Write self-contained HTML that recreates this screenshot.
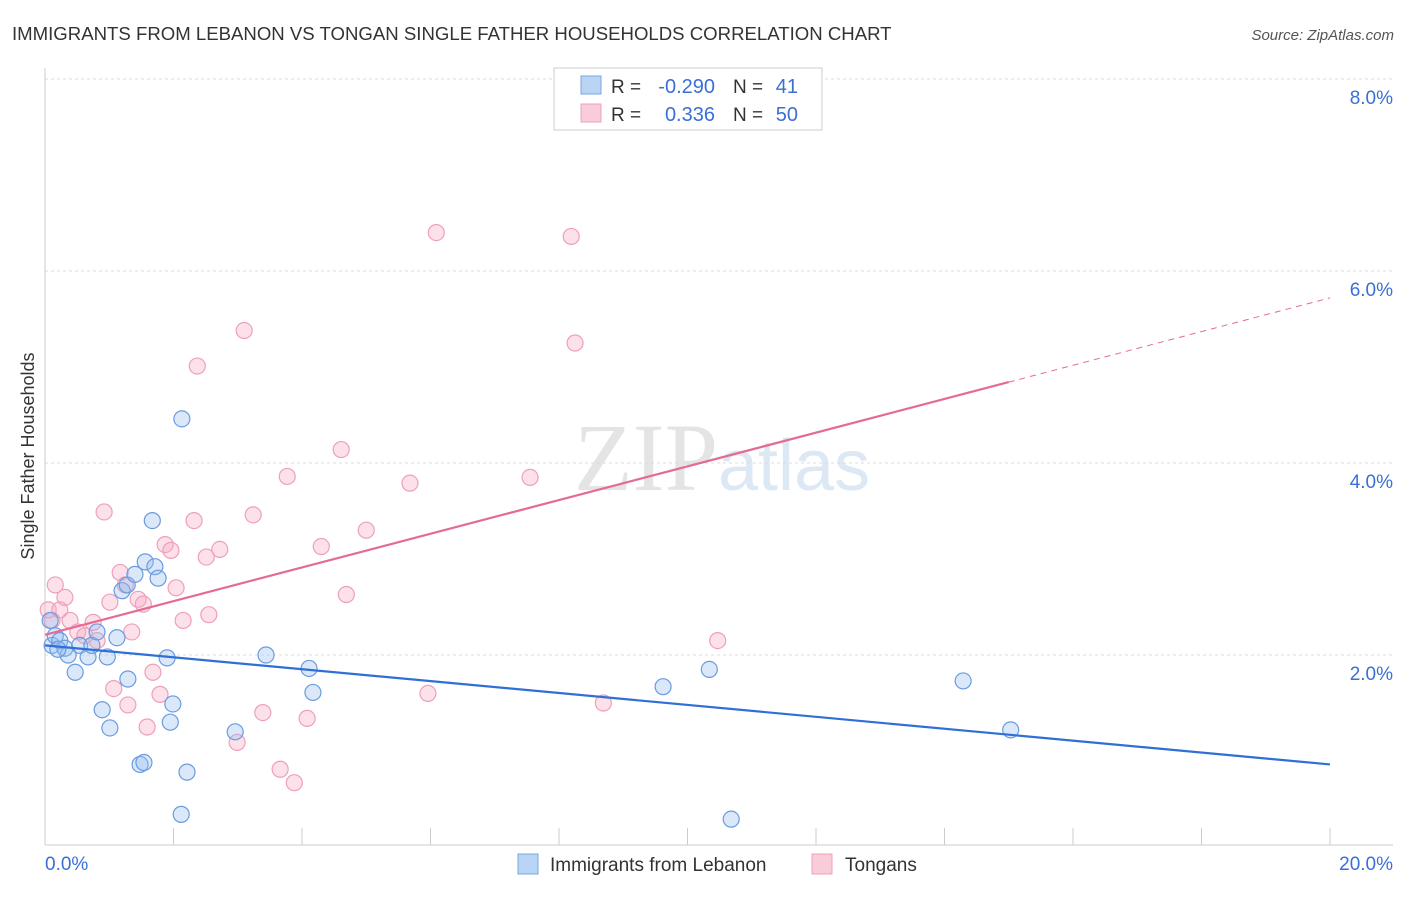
<!DOCTYPE html>
<html><head><meta charset="utf-8"><style>
body{margin:0;background:#fff;font-family:"Liberation Sans",sans-serif}
</style></head><body>
<svg id="c" width="1406" height="892" xmlns="http://www.w3.org/2000/svg">
<text x="12" y="40" font-size="18.6" fill="#333">IMMIGRANTS FROM LEBANON VS TONGAN SINGLE FATHER HOUSEHOLDS CORRELATION CHART</text>
<text x="1394" y="40" font-size="15" fill="#555" font-style="italic" text-anchor="end">Source: ZipAtlas.com</text>
<text x="718" y="490" font-size="96" fill="#e4e4e4" text-anchor="end" font-family="Liberation Serif">ZIP</text>
<text x="718" y="490" font-size="72" fill="#dde8f5">atlas</text>
<g id="grid"></g><g id="axes"></g><g id="marks"></g>
<text transform="translate(34,456) rotate(-90)" font-size="18" fill="#333" text-anchor="middle">Single Father Households</text>
<g>
<rect x="554" y="68" width="268" height="62" fill="#fff" stroke="#ccc"/>
<rect x="581" y="76" width="20" height="18" fill="#b9d4f5" stroke="#7aa7e0"/>
<rect x="581" y="104" width="20" height="18" fill="#f9ccd9" stroke="#eea0b8"/>
<text x="611" y="93" font-size="19" fill="#333">R =</text>
<text x="715" y="93" font-size="20" fill="#3a6fd8" text-anchor="end">-0.290</text>
<text x="733" y="93" font-size="19" fill="#333">N =</text>
<text x="798" y="93" font-size="20" fill="#3a6fd8" text-anchor="end">41</text>
<text x="611" y="121" font-size="19" fill="#333">R =</text>
<text x="715" y="121" font-size="20" fill="#3a6fd8" text-anchor="end">0.336</text>
<text x="733" y="121" font-size="19" fill="#333">N =</text>
<text x="798" y="121" font-size="20" fill="#3a6fd8" text-anchor="end">50</text>
</g>
<g>
<rect x="518" y="854" width="20" height="20" fill="#b9d4f5" stroke="#7aa7e0"/>
<text x="550" y="871" font-size="19" fill="#333">Immigrants from Lebanon</text>
<rect x="812" y="854" width="20" height="20" fill="#f9ccd9" stroke="#eea0b8"/>
<text x="845" y="871" font-size="19" fill="#333">Tongans</text>
</g>
</svg>
<script>
const xTicks=[0,2,4,6,8,10,12,14,16,18,20];
const yTicks=[2,4,6,8];
const blueX=[0.11,0.16,0.23,0.31,0.36,0.47,0.54,0.67,0.73,0.81,0.89,0.97,1.01,1.12,1.2,1.28,1.29,1.4,1.48,1.54,1.56,1.67,1.71,1.76,1.9,1.95,1.99,2.12,2.13,2.21,2.96,3.44,4.11,4.17,9.62,10.34,10.68,14.29,15.03,0.08,0.2];
const blueY=[2.1,2.2,2.15,2.07,2.0,1.82,2.1,1.98,2.1,2.24,1.43,1.98,1.24,2.18,2.67,2.73,1.75,2.84,0.86,0.88,2.97,3.4,2.92,2.8,1.97,1.3,1.49,0.34,4.46,0.78,1.2,2.0,1.86,1.61,1.67,1.85,0.29,1.73,1.22,2.36,2.06];
const pinkX=[0.05,0.11,0.16,0.23,0.31,0.39,0.51,0.62,0.75,0.81,0.92,1.01,1.07,1.17,1.25,1.29,1.35,1.45,1.53,1.59,1.68,1.79,1.87,1.96,2.04,2.15,2.32,2.37,2.51,2.55,2.72,2.99,3.1,3.24,3.39,3.66,3.77,3.88,4.08,4.3,4.61,4.69,5.0,5.68,5.96,6.09,7.55,8.19,8.25,8.69,10.47];
const pinkY=[2.47,2.36,2.73,2.47,2.6,2.36,2.24,2.2,2.34,2.15,3.49,2.55,1.65,2.86,2.73,1.48,2.24,2.58,2.53,1.25,1.82,1.59,3.15,3.09,2.7,2.36,3.4,5.01,3.02,2.42,3.1,1.09,5.38,3.46,1.4,0.81,3.86,0.67,1.34,3.13,4.14,2.63,3.3,3.79,1.6,6.4,3.85,6.36,5.25,1.5,2.15];
const blueLine=[2.10,0.86];
const pinkLine=[2.21,5.72];
const pinkSolidEnd=15.0;
const X=v=>45+v*64.25, Y=v=>847-v*96;
const NS="http://www.w3.org/2000/svg";
function mk(t,a,p){const e=document.createElementNS(NS,t);for(const k in a)e.setAttribute(k,a[k]);document.getElementById(p).appendChild(e);return e;}
yTicks.forEach(t=>{const l=mk('line',{x1:45,x2:1393,y1:Y(t),y2:Y(t),stroke:'#ddd','stroke-dasharray':'3,3'},'grid');


const tx=mk('text',{x:1393,y:Y(t)+25,'font-size':19,fill:'#3a6fd8','text-anchor':'end'},'axes');tx.textContent=t.toFixed(1)+'%';

});
const ax=mk('line',{x1:45,x2:1393,y1:845,y2:845,stroke:'#ccc'},'axes');


const ay=mk('line',{x1:45,x2:45,y1:68,y2:845,stroke:'#ccc'},'axes');


xTicks.forEach(t=>{const l=mk('line',{x1:X(t),x2:X(t),y1:828,y2:845,stroke:'#ccc'},'axes');

});
[[0,'0.0%','start',45],[20,'20.0%','end',1393]].forEach(d=>{const tx=mk('text',{x:d[3],y:870,'font-size':19,fill:'#3a6fd8','text-anchor':d[2]},'axes');tx.textContent=d[1];

});
pinkX.forEach((x,i)=>{const c=mk('circle',{cx:X(x),cy:Y(pinkY[i]),r:8,fill:'rgba(245,170,195,0.35)',stroke:'#eea0b8','stroke-width':1.2},'marks');

});
blueX.forEach((x,i)=>{const c=mk('circle',{cx:X(x),cy:Y(blueY[i]),r:8,fill:'rgba(150,190,240,0.35)',stroke:'#6a9be0','stroke-width':1.2},'marks');

});
const bl=mk('line',{x1:X(0),y1:Y(blueLine[0]),x2:X(20),y2:Y(blueLine[1]),stroke:'#2f6fd6','stroke-width':2.2},'marks');


const py=v=>pinkLine[0]+(pinkLine[1]-pinkLine[0])*v/20;
const pl=mk('line',{x1:X(0),y1:Y(py(0)),x2:X(pinkSolidEnd),y2:Y(py(pinkSolidEnd)),stroke:'#e56a94','stroke-width':2.2},'marks');


const pd=mk('line',{x1:X(pinkSolidEnd),y1:Y(py(pinkSolidEnd)),x2:X(20),y2:Y(py(20)),stroke:'#e56a94','stroke-width':1,'stroke-dasharray':'6,5'},'marks');


</script>
</body></html>
